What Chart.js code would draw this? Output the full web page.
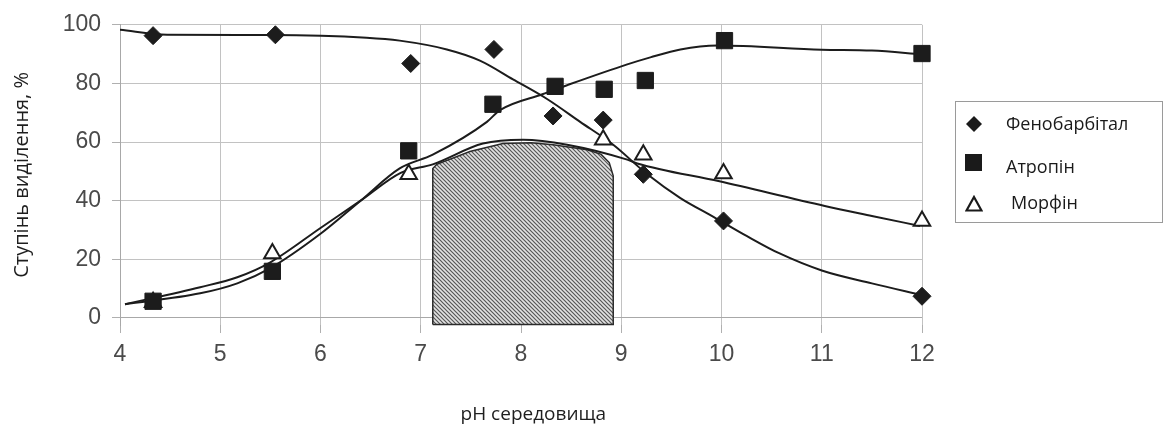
<!DOCTYPE html>
<html>
<head>
<meta charset="utf-8">
<script src="https://cdn.jsdelivr.net/npm/chart.js@4.4.1/dist/chart.umd.min.js"></script>
<style>
html,body{margin:0;padding:0;background:#fff;}
#wrap{position:relative;width:1165px;height:432px;}
#legend{position:absolute;left:955px;top:101px;width:208px;height:122px;border:1px solid #9a9a9a;box-sizing:border-box;font-family:"Open Sans",sans-serif;font-size:18px;color:#1a1a1a;}
#legend svg{position:absolute;}
#legend span{position:absolute;line-height:22px;white-space:nowrap;}
</style>
</head>
<body>
<div id="wrap">
<canvas id="c" width="1165" height="432"></canvas>
<div id="legend">
  <svg style="left:9px;top:13px" width="18" height="18" viewBox="0 0 18 18"><polygon points="9,1 17,9 9,17 1,9" fill="#1a1a1a"/></svg>
  <span style="left:50px;top:10px">Фенобарбітал</span>
  <svg style="left:9px;top:52px" width="17" height="17" viewBox="0 0 17 17"><rect x="0" y="0" width="17" height="17" fill="#1a1a1a"/></svg>
  <span style="left:50px;top:53px">Атропін</span>
  <svg style="left:9px;top:93px" width="18" height="17" viewBox="0 0 18 17"><polygon points="9,2 16.5,15.5 1.5,15.5" fill="#fff" stroke="#1a1a1a" stroke-width="2.2"/></svg>
  <span style="left:55px;top:89px">Морфін</span>
</div>
</div>
<script>
// ---- data ----
const xTicks = [4, 5, 6, 7, 8, 9, 10, 11, 12];
const yTicks = [0, 20, 40, 60, 80, 100];

const seriesNames = ['Фенобарбітал', 'Атропін', 'Морфін'];

// measured points
const phenoPH  = [4.33, 5.55, 6.90, 7.73, 8.32, 8.82, 9.22, 10.02, 12.0];
const phenoVal = [96.3, 96.6, 86.8, 91.6, 68.9, 67.5, 49.0, 33.1, 7.4];

const atroPH  = [4.33, 5.52, 6.88, 7.72, 8.34, 8.83, 9.24, 10.03, 12.0];
const atroVal = [5.7, 15.9, 57.0, 72.9, 79.0, 78.0, 81.0, 94.6, 90.2];

const morphPH  = [4.33, 5.52, 6.88, 8.82, 9.22, 10.02, 12.0];
const morphVal = [5.4, 22.0, 49.0, 60.8, 55.7, 49.3, 33.1];

// smoothed trend curves
const phenoCurvePH  = [4.0, 4.47, 5.5, 6.46, 6.79, 7.26, 7.59, 7.92, 8.26, 8.59, 8.92, 9.26, 9.59, 9.92, 10.25, 10.58, 11.0, 11.5, 12.0];
const phenoCurveVal = [98.3, 96.6, 96.5, 95.6, 94.6, 91.6, 87.8, 81.4, 74.7, 66.9, 59.1, 49.0, 40.9, 34.5, 28.0, 22.0, 16.2, 11.8, 7.8];

const atroCurvePH  = [4.05, 4.8, 5.17, 5.5, 6.0, 6.4, 6.79, 7.12, 7.66, 7.79, 8.22, 8.46, 9.06, 9.29, 9.59, 9.96, 11.0, 11.5, 12.0];
const atroCurveVal = [4.7, 8.4, 11.8, 17.0, 28.7, 40.0, 51.0, 55.7, 66.9, 70.9, 76.4, 79.4, 86.5, 88.9, 91.6, 92.9, 91.5, 91.2, 89.9];

const morphCurvePH  = [4.05, 4.8, 5.17, 5.5, 6.0, 6.4, 6.8, 7.12, 7.62, 8.02, 8.46, 9.06, 9.16, 9.98, 11.03, 11.5, 11.98];
const morphCurveVal = [4.7, 10.5, 13.9, 19.0, 30.7, 40.0, 49.5, 52.4, 59.5, 60.8, 59.1, 54.0, 52.7, 46.6, 38.2, 34.8, 31.4];

// hatched optimum-pH region (closed outline)
const hatchPH  = [7.12, 7.12, 7.16, 7.49, 7.82, 8.10, 8.32, 8.66, 8.80, 8.88, 8.92, 8.92, 7.12];
const hatchVal = [-2.2, 51.0, 52.4, 56.8, 59.5, 59.8, 59.1, 57.4, 55.8, 53.0, 48.5, -2.2, -2.2];

// ---- helpers ----
function pts(xs, ys) { return xs.map((x, i) => ({x: x, y: ys[i]})); }

function makeHatch() {
  const c = document.createElement('canvas');
  c.width = 4; c.height = 4;
  const g = c.getContext('2d');
  g.fillStyle = '#e2e2e2';
  g.fillRect(0, 0, 4, 4);
  g.strokeStyle = '#575757';
  g.lineWidth = 1.2;
  g.beginPath();
  g.moveTo(-1, -1); g.lineTo(5, 5);
  g.moveTo(-1, 3); g.lineTo(1, 5);
  g.moveTo(3, -1); g.lineTo(5, 1);
  g.stroke();
  return g.createPattern(c, 'repeat');
}

const INK = '#1c1c1c';
const curveStyle = {
  showLine: true, borderColor: INK, borderWidth: 2, pointRadius: 0,
  cubicInterpolationMode: 'monotone', fill: false, order: 1
};

const ctx = document.getElementById('c').getContext('2d');
new Chart(ctx, {
  type: 'scatter',
  data: {
    datasets: [
      { label: 'hatch', data: pts(hatchPH, hatchVal), showLine: true, tension: 0,
        borderColor: '#2a2a2a', borderWidth: 1.5, pointRadius: 0,
        backgroundColor: makeHatch(), fill: 'shape', clip: false, order: 3 },
      Object.assign({ label: 'pheno-curve', data: pts(phenoCurvePH, phenoCurveVal) }, curveStyle),
      Object.assign({ label: 'atro-curve', data: pts(atroCurvePH, atroCurveVal) }, curveStyle),
      Object.assign({ label: 'morph-curve', data: pts(morphCurvePH, morphCurveVal) }, curveStyle),
      { label: seriesNames[0], data: pts(phenoPH, phenoVal), pointStyle: 'rectRot', pointRadius: 9,
        backgroundColor: INK, borderColor: INK, borderWidth: 1, order: 0, clip: false },
      { label: seriesNames[1], data: pts(atroPH, atroVal), pointStyle: 'rect', pointRadius: 11.5,
        backgroundColor: INK, borderColor: INK, borderWidth: 1, order: 0, clip: false },
      { label: seriesNames[2], data: pts(morphPH, morphVal), pointStyle: 'triangle', pointRadius: 9.5,
        backgroundColor: '#ffffff', borderColor: INK, borderWidth: 2, order: 0, clip: false }
    ]
  },
  options: {
    responsive: false,
    animation: false,
    devicePixelRatio: 1,
    layout: { padding: { top: 22, right: 243, bottom: 0, left: 0 } },
    plugins: { legend: { display: false }, tooltip: { enabled: false } },
    scales: {
      x: {
        type: 'linear', min: 4, max: 12,
        afterBuildTicks: (s) => { s.ticks = xTicks.map(v => ({value: v})); },
        afterFit: (s) => { s.height = 107; },
        grid: { color: '#c2c2c2', lineWidth: 1, tickLength: 8, tickColor: '#b0b0b0' },
        border: { display: false },
        ticks: { font: { family: 'Liberation Sans', size: 23 }, color: '#4a4a4a', padding: 8, maxRotation: 0 },
        title: { display: true, text: '     pH середовища', font: { family: 'Open Sans', size: 19 },
                 color: '#1e1e1e', padding: { top: 0, bottom: 6 } }
      },
      y: {
        type: 'linear', min: -2.4, max: 100,
        afterBuildTicks: (s) => { s.ticks = yTicks.map(v => ({value: v})); },
        afterFit: (s) => { s.width = 120; },
        grid: { color: (c) => (c.tick && c.tick.value === 0 ? '#a8a8a8' : '#c2c2c2'), lineWidth: 1, tickLength: 8, tickColor: '#b0b0b0' },
        border: { color: '#a8a8a8' },
        ticks: { font: { family: 'Liberation Sans', size: 23 }, color: '#4a4a4a', padding: 11 },
        title: { display: true, text: 'Ступінь виділення, %', font: { family: 'Open Sans', size: 20 },
                 color: '#1e1e1e', padding: { top: 10, bottom: 0 } }
      }
    }
  }
});
</script>
</body>
</html>
